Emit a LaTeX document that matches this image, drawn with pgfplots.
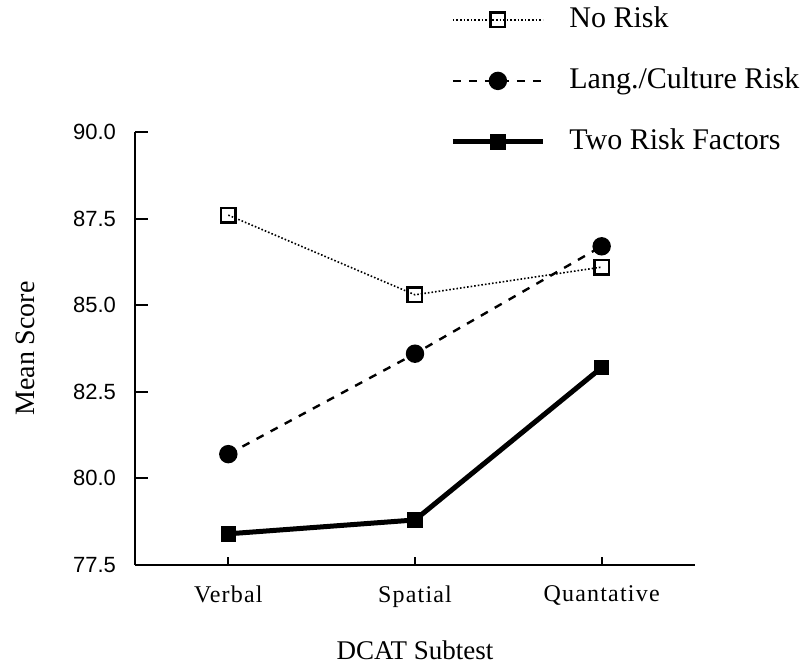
\documentclass[border=0pt]{standalone}
\usepackage{pgfplots}
\pgfplotsset{compat=1.18}
\usepackage{fontspec}
\setmainfont{Liberation Serif}
\newfontfamily\ticksans{Liberation Sans}
\newfontfamily\spaced[LetterSpace=5]{Liberation Serif}

\begin{document}
\begin{tikzpicture}
\begin{axis}[
    width=280pt, height=216.5pt,
    scale only axis,
    axis lines*=left,
    axis line style={line width=1.2pt},
    xmin=-0.5, xmax=2.5,
    ymin=77.5, ymax=90,
    xtick={0,1,2},
    xticklabels={Verbal, Spatial, Quantative},
    ytick={77.5,80,82.5,85,87.5,90},
    yticklabel style={font=\ticksans\fontsize{11}{13}\selectfont, xshift=-6pt,
        /pgf/number format/.cd, fixed, fixed zerofill, precision=1, assume math mode=true},
    xticklabel style={font=\spaced\fontsize{12}{14}\selectfont, yshift=-7pt},
    tick align=inside,
    major tick length=6.5pt,
    xtick style={/pgfplots/major tick length=4pt},
    tick style={line width=1pt, black},
    xlabel={DCAT Subtest},
    ylabel={Mean Score},
    xlabel style={font=\fontsize{13.5}{16}\selectfont, at={(axis description cs:0.5,-0.196)}, anchor=center},
    ylabel style={font=\fontsize{14}{16}\selectfont, at={(axis description cs:-0.196,0.5)}, anchor=center},
    clip=false,
    legend style={draw=none, fill=none, at={(axis description cs:0.5625,1.118)}, anchor=west,
        font=\fontsize{15}{17}\selectfont, row sep=12pt, inner sep=0pt,
        nodes={inner sep=2pt, text height=11pt, text depth=3.5pt},
        /tikz/every odd column/.append style={column sep=10pt}},
    legend cell align=left,
    legend image code/.code={
        \draw[mark repeat=2, mark phase=2, #1] plot coordinates {(0pt,0pt) (22.5pt,0pt) (45pt,0pt)};
    },
]
\addplot[black, line width=0.8pt, densely dotted, mark=square, mark size=3.6pt,
    mark options={solid, line width=1.3pt, fill=white}]
    coordinates {(0,87.6) (1,85.3) (2,86.1)};
\addlegendentry{No Risk}
\addplot[black, line width=1.2pt, dash pattern=on 4pt off 4pt, mark=*, mark size=4pt,
    mark options={solid}]
    coordinates {(0,80.7) (1,83.6) (2,86.7)};
\addlegendentry{Lang./Culture Risk}
\addplot[black, line width=2.5pt, mark=square*, mark size=3.6pt, mark options={solid, line width=0.5pt}]
    coordinates {(0,78.4) (1,78.8) (2,83.2)};
\addlegendentry{Two Risk Factors}
\coordinate (O) at (rel axis cs:0,0);
\end{axis}
\path ([shift={(-67.5pt,-47.5pt)}]O) rectangle ++(402pt,330pt);
\end{tikzpicture}
\end{document}
